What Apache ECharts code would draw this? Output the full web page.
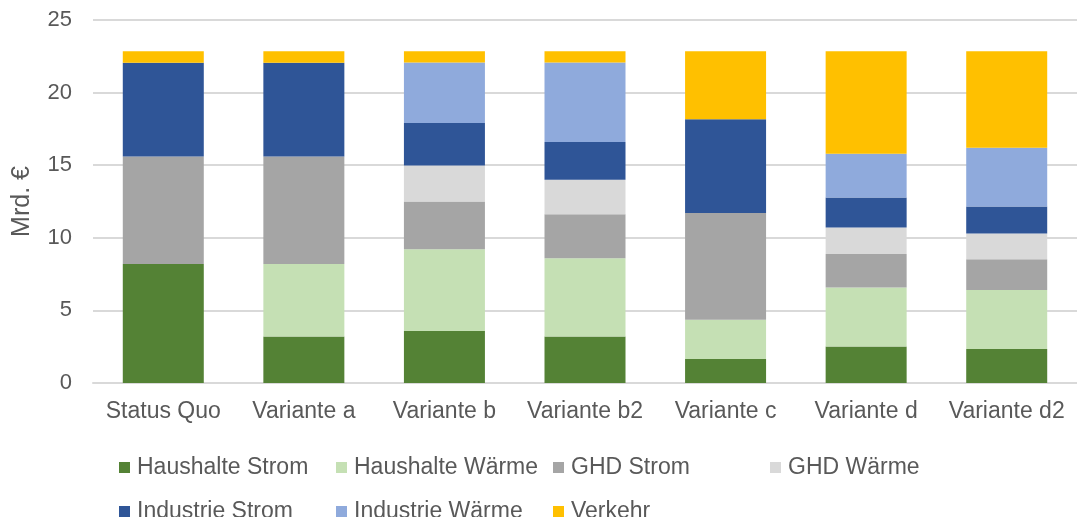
<!DOCTYPE html>
<html lang="de">
<head>
<meta charset="utf-8"/>
<title>Kosten nach Sektor</title>
<script src="https://cdn.jsdelivr.net/npm/echarts@6/dist/echarts.min.js"></script>
<style>
html,body{margin:0;padding:0;background:#fff;}
#chart{width:1077px;height:517px;}
</style>
</head>
<body>
<div id="chart"></div>
<script>
// Kategorien und Werte (Mrd. €)
var categories = ['Status Quo', 'Variante a', 'Variante b', 'Variante b2', 'Variante c', 'Variante d', 'Variante d2'];
var haushalteStrom = [8.2, 3.2, 3.58, 3.21, 1.65, 2.52, 2.34];
var haushalteWaerme = [0, 5.0, 5.64, 5.39, 2.71, 4.06, 4.06];
var ghdStrom = [7.4, 7.4, 3.28, 3.03, 7.34, 2.3, 2.13];
var ghdWaerme = [0, 0, 2.48, 2.36, 0, 1.83, 1.77];
var industrieStrom = [6.45, 6.45, 2.92, 2.6, 6.47, 2.06, 1.85];
var industrieWaerme = [0, 0, 4.17, 5.48, 0, 3.01, 4.06];
var verkehr = [0.8, 0.8, 0.78, 0.78, 4.68, 7.07, 6.64];
var yTicks = [0, 5, 10, 15, 20, 25];

var textColor = '#595959';
var font = 'Liberation Sans, Arial, sans-serif';

function serie(name, data, color) {
    return {
        name: name,
        type: 'bar',
        stack: 'total',
        barWidth: 81,
        data: data,
        itemStyle: { color: color },
        emphasis: { disabled: true }
    };
}

// Excel-Legende: feste Spalten, daher ein Eintrag je Legende
function legendItem(left, top, name) {
    return {
        left: left,
        top: top,
        padding: 0,
        itemWidth: 11,
        itemHeight: 11,
        icon: 'rect',
        data: [name],
        textStyle: { color: textColor, fontSize: 23, fontFamily: font, padding: [0, 0, 0, 2] },
        selectedMode: false
    };
}

var myChart = echarts.init(document.getElementById('chart'));
myChart.setOption({
    animation: false,
    grid: { left: 93, right: -9, top: 20, bottom: 134 },
    legend: [
        legendItem(119, 456, 'Haushalte Strom'),
        legendItem(336, 456, 'Haushalte Wärme'),
        legendItem(553, 456, 'GHD Strom'),
        legendItem(770, 456, 'GHD Wärme'),
        legendItem(119, 500, 'Industrie Strom'),
        legendItem(336, 500, 'Industrie Wärme'),
        legendItem(553, 500, 'Verkehr')
    ],
    xAxis: {
        type: 'category',
        data: categories,
        axisLine: { lineStyle: { color: '#d9d9d9', width: 2 } },
        axisTick: { show: false },
        axisLabel: { color: textColor, fontSize: 23, fontFamily: font, margin: 17, interval: 0 }
    },
    yAxis: {
        type: 'value',
        min: yTicks[0],
        max: yTicks[yTicks.length - 1],
        interval: 5,
        name: 'Mrd. €',
        nameLocation: 'middle',
        nameGap: 58,
        nameTextStyle: { color: textColor, fontSize: 25, fontFamily: font },
        axisLine: { show: false },
        axisTick: { show: false },
        axisLabel: { color: textColor, fontSize: 22, fontFamily: font, margin: 21 },
        splitLine: { lineStyle: { color: '#d9d9d9', width: 2 } }
    },
    series: [
        serie('Haushalte Strom', haushalteStrom, '#548235'),
        serie('Haushalte Wärme', haushalteWaerme, '#c5e0b4'),
        serie('GHD Strom', ghdStrom, '#a5a5a5'),
        serie('GHD Wärme', ghdWaerme, '#d9d9d9'),
        serie('Industrie Strom', industrieStrom, '#2f5597'),
        serie('Industrie Wärme', industrieWaerme, '#8faadc'),
        serie('Verkehr', verkehr, '#ffc000')
    ]
});
</script>
</body>
</html>
